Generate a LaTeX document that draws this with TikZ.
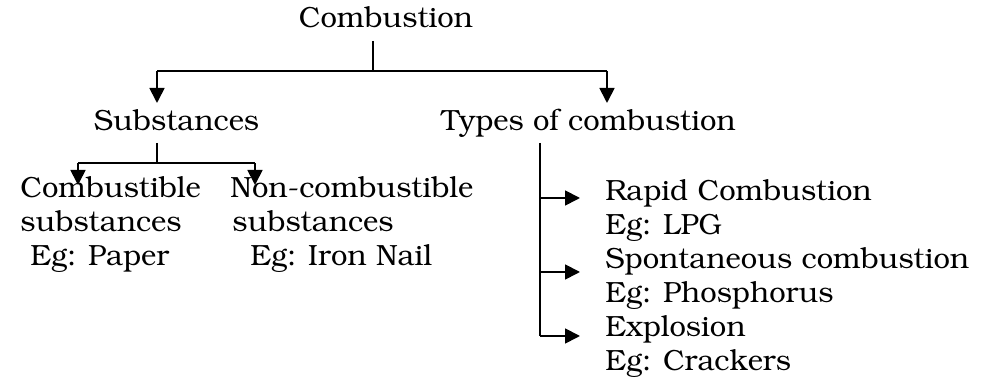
\documentclass[tikz,border=0pt]{standalone}
\usepackage[T1]{fontenc}
\usepackage{bookman}
\usepackage{tikz}
\usetikzlibrary{arrows.meta,positioning}

\begin{document}
\begin{tikzpicture}[x=0.5bp, y=-0.5bp,
   txt/.style={inner sep=0pt, align=left, font=\fontsize{14.6bp}{17bp}\selectfont},
   conn/.style={draw, line width=0.9bp},
   arr/.style={conn, -{Triangle[length=7.5bp,width=7.5bp]}}]
   \useasboundingbox (0,0) rectangle (993,381);
   % headings
   \node[txt, anchor=base] (comb) at (386,28) {Combustion};
   \node[txt, anchor=base] (subs) at (176.5,131) {Substances};
   \node[txt, anchor=base west] (types) at (441,131) {Types of combustion};
   % substances (base = last line)
   \node[txt, anchor=base west] (cs) at (20,266) {Combustible\\substances\\\hspace*{5bp}Eg: Paper};
   \node[txt, anchor=base west] (ncs) at (230,266) {Non-combustible\\\hspace*{1bp}substances\\\hspace*{10bp}Eg: Iron Nail};
   % types
   \node[txt, anchor=base west] (rapid) at (605,235) {Rapid Combustion\\Eg: LPG};
   \node[txt, anchor=base west] (spont) at (605,303) {Spontaneous combustion\\Eg: Phosphorus};
   \node[txt, anchor=base west] (expl) at (605,371) {Explosion\\Eg: Crackers};
   % joints and arrow ends
   \coordinate (c0) at (373,41);
   \coordinate (c1) at (373,71);
   \coordinate (a1) at (157,103);
   \coordinate (a2) at (607,103);
   \coordinate (s0) at (157,143);
   \coordinate (s1) at (157,163);
   \coordinate (b1) at (78,185);
   \coordinate (b2) at (255,185);
   \coordinate (t0) at (540,143);
   \coordinate (t3) at (540,336);
   \foreach \i/\y in {1/198, 2/272, 3/336} {
      \coordinate (t\i) at (540,\y);
      \coordinate (e\i) at (580,\y);
   }
   \path[conn] (c0) -- (c1);
   \foreach \dest in {a1, a2}
   \path[arr] (\dest |- c1) -- (\dest);
   \foreach \dest in {b1, b2}
   \path[arr] (\dest |- s1) -- (\dest);
   \path[conn, line width=1.2bp] (a1 |- c1) -- (a2 |- c1);
   \path[conn] (s0) -- (s1);
   \path[conn] (b1 |- s1) -- (b2 |- s1);
   \path[conn] (t0) -- (t3);
   \foreach \i in {1, 2, 3}
   \path[arr] (t\i) -- (e\i);
\end{tikzpicture}
\end{document}
